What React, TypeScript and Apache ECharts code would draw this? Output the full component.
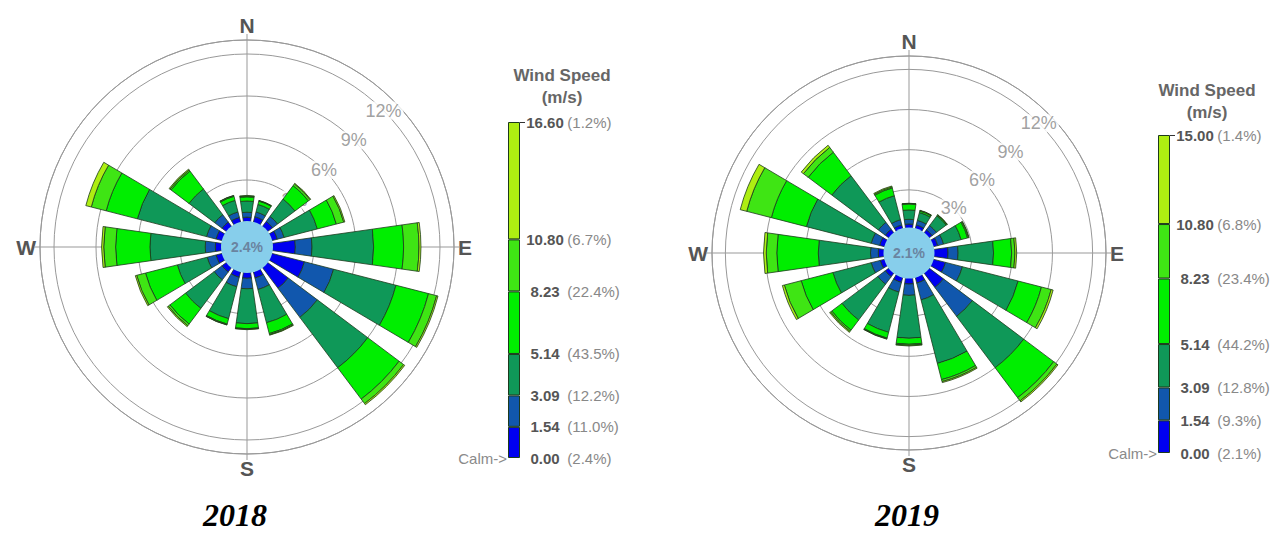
import React, { useEffect, useRef } from "react";
import * as echarts from "echarts";

// ---------- DATA ----------
const directions = ["N", "NNE", "NE", "ENE", "E", "ESE", "SE", "SSE", "S", "SSW", "SW", "WSW", "W", "WNW", "NW", "NNW"];
const compassLabels = ["N", "E", "S", "W"];
const ringTicks = [3, 6, 9, 12];

// 2018 frequencies (%) per speed class, per direction
const calm2018 = 2.4;
const y2018_0_154 = [0.35, 0.45, 0.5, 0.45, 1.67, 2.45, 1.9, 0.5, 0.45, 0.45, 0.45, 0.5, 0.48, 0.5, 0.45, 0.4];
const y2018_154_309 = [0.35, 0.35, 0.45, 0.5, 1.19, 2.15, 2.6, 0.85, 0.75, 0.7, 0.7, 0.65, 0.72, 0.7, 0.65, 0.4];
const y2018_309_514 = [0.8, 0.55, 1.55, 2.45, 4.4, 4.6, 4.5, 2.45, 2.49, 2.35, 2.55, 2.2, 3.95, 5.1, 2.3, 0.85];
const y2018_514_823 = [0.3, 0.25, 1.2, 1.4, 2.14, 2.4, 2.8, 0.8, 0.36, 0.4, 1.4, 2.35, 2.45, 2.3, 1.6, 0.3];
const y2018_823_1080 = [0.05, 0.03, 0.15, 0.55, 1.1, 0.6, 0.4, 0.08, 0.04, 0.05, 0.15, 0.65, 0.85, 1.1, 0.1, 0.05];
const y2018_1080_up = [0.05, 0.02, 0.05, 0.08, 0.14, 0.1, 0.1, 0.04, 0.03, 0.02, 0.08, 0.1, 0.15, 0.4, 0.07, 0.02];
const legendBreaks2018 = [0, 1.54, 3.09, 5.14, 8.23, 10.8, 16.6];
const legendPct2018 = [2.4, 11.0, 12.2, 43.5, 22.4, 6.7, 1.2];

// 2019
const calm2019 = 2.1;
const y2019_0_154 = [0.45, 0.45, 0.45, 0.5, 1.2, 1.1, 1.5, 0.6, 0.6, 0.55, 0.5, 0.5, 0.58, 0.55, 0.5, 0.45];
const y2019_154_309 = [0.35, 0.35, 0.4, 0.45, 0.75, 1.3, 2.7, 1.3, 0.85, 0.75, 0.7, 0.7, 0.58, 0.65, 0.65, 0.4];
const y2019_309_514 = [0.7, 0.6, 0.9, 1.35, 2.65, 4.3, 4.8, 4.9, 3.2, 3.1, 3.35, 2.95, 3.9, 5.0, 4.35, 1.85];
const y2019_514_823 = [0.45, 0.12, 0.07, 0.5, 1.35, 1.8, 2.8, 1.25, 0.45, 0.45, 0.95, 2.45, 3.1, 2.7, 2.2, 0.6];
const y2019_823_1080 = [0.03, 0.03, 0.02, 0.08, 0.25, 0.75, 0.3, 0.15, 0.08, 0.05, 0.12, 1.3, 0.79, 1.9, 0.45, 0.08];
const y2019_1080_up = [0.02, 0.03, 0.02, 0.04, 0.13, 0.15, 0.1, 0.08, 0.05, 0.03, 0.08, 0.15, 0.2, 0.5, 0.2, 0.07];
const legendBreaks2019 = [0, 1.54, 3.09, 5.14, 8.23, 10.8, 15.0];
const legendPct2019 = [2.1, 9.3, 12.8, 44.2, 23.4, 6.8, 1.4];

// ---------- STYLE ----------
const classColors = ["#0000f0", "#1157ad", "#0f9858", "#00ee00", "#3fe514", "#aeee12"];
const SANS = "'Liberation Sans', Arial, sans-serif";
const SERIF = "'Liberation Serif', 'Times New Roman', serif";
const gridLine = "#999999";
const barBorder = "#1c3a1c";

type RoseCfg = {
  year: string;
  classes: number[][];
  calm: number;
  center: [number, number];
  radius: [number, number];
  calmRadius: number;
  breaks: number[];
  pct: number[];
  legendBox: { left: number; top: number; width: number; height: number };
  titleX: number;
  titleY: number;
  yearX: number;
};

const roses: RoseCfg[] = [
  {
    year: "2018",
    classes: [y2018_0_154, y2018_154_309, y2018_309_514, y2018_514_823, y2018_823_1080, y2018_1080_up],
    calm: calm2018,
    center: [247, 247],
    radius: [25, 207],
    calmRadius: 26,
    breaks: legendBreaks2018,
    pct: legendPct2018,
    legendBox: { left: 508, top: 122, width: 12, height: 336 },
    titleX: 562,
    titleY: 64,
    yearX: 235,
  },
  {
    year: "2019",
    classes: [y2019_0_154, y2019_154_309, y2019_309_514, y2019_514_823, y2019_823_1080, y2019_1080_up],
    calm: calm2019,
    center: [909, 253],
    radius: [23, 197],
    calmRadius: 25.5,
    breaks: legendBreaks2019,
    pct: legendPct2019,
    legendBox: { left: 1158, top: 135, width: 12, height: 318 },
    titleX: 1207,
    titleY: 79,
    yearX: 907,
  },
];

function buildOption() {
  const polar: any[] = [];
  const angleAxis: any[] = [];
  const radiusAxis: any[] = [];
  const grid: any[] = [];
  const xAxis: any[] = [];
  const yAxis: any[] = [];
  const series: any[] = [];
  const title: any[] = [];

  roses.forEach((r, k) => {
    const gIdx = k * 2;
    const bIdx = k * 2 + 1;
    polar.push({ center: r.center, radius: r.radius });
    polar.push({ center: r.center, radius: r.radius });

    angleAxis.push({
      polarIndex: gIdx,
      type: "value",
      min: 0,
      max: 360,
      interval: 90,
      startAngle: 90,
      clockwise: true,
      axisLine: { show: true, lineStyle: { color: gridLine, width: 1 } },
      axisTick: { show: true, inside: false, length: 6, lineStyle: { color: gridLine } },
      axisLabel: {
        show: true,
        margin: 4,
        fontSize: 21,
        fontWeight: "bold",
        color: "#555",
        fontFamily: SANS,
        formatter: (v: number) => compassLabels[Math.round(v / 90)] ?? "",
      },
      splitLine: { show: true, lineStyle: { color: gridLine, width: 1 } },
    });
    angleAxis.push({
      polarIndex: bIdx,
      type: "category",
      data: directions,
      startAngle: 90 + 360 / 32,
      clockwise: true,
      boundaryGap: true,
      axisLine: { show: false },
      axisTick: { show: false },
      axisLabel: { show: false },
      splitLine: { show: false },
    });
    radiusAxis.push({
      polarIndex: gIdx,
      type: "value",
      min: 0,
      max: 13,
      interval: 3,
      axisLine: { show: false },
      axisTick: { show: false },
      axisLabel: { show: false },
      splitLine: { show: true, lineStyle: { color: gridLine, width: 1 } },
    });
    radiusAxis.push({
      polarIndex: bIdx,
      type: "value",
      min: 0,
      max: 13,
      axisLine: { show: false },
      axisTick: { show: false },
      axisLabel: { show: false },
      splitLine: { show: false },
    });

    // ring labels
    series.push({
      type: "scatter",
      coordinateSystem: "polar",
      polarIndex: gIdx,
      z: 1,
      silent: true,
      symbolSize: 1,
      itemStyle: { color: "rgba(0,0,0,0)" },
      data: ringTicks.map((v) => [v, 45]),
      label: {
        show: true,
        position: "inside",
        formatter: (p: any) => `${p.value[0]}%`,
        fontSize: 18,
        color: "#888",
        fontFamily: SANS,
        backgroundColor: "#fff",
        padding: [0, 2],
      },
    });

    // petals
    r.classes.forEach((vals, i) => {
      series.push({
        type: "bar",
        coordinateSystem: "polar",
        polarIndex: bIdx,
        stack: "rose" + r.year,
        z: 3,
        silent: true,
        barCategoryGap: "28%",
        data: vals,
        itemStyle: { color: classColors[i], borderColor: barBorder, borderWidth: 0.8 },
      });
    });

    // calm circle
    series.push({
      type: "pie",
      center: r.center,
      radius: [0, r.calmRadius],
      z: 5,
      silent: true,
      startAngle: 90,
      data: [{ value: r.calm, name: "Calm" }],
      itemStyle: { color: "#87ceeb" },
      labelLine: { show: false },
      label: {
        show: true,
        position: "center",
        formatter: () => `${r.calm.toFixed(1)}%`,
        fontSize: 14,
        fontWeight: "bold",
        color: "#6a84a0",
        fontFamily: SANS,
      },
    });

    // legend colour bar
    grid.push({ ...r.legendBox });
    xAxis.push({ gridIndex: k, type: "category", data: [""], show: false });
    const maxV = r.breaks[r.breaks.length - 1];
    yAxis.push({
      gridIndex: k,
      type: "value",
      min: 0,
      max: maxV,
      position: "right",
      axisLine: { show: false },
      splitLine: { show: false },
      axisTick: { show: true, customValues: [maxV], length: 5, lineStyle: { color: "#333" } },
      axisLabel: {
        show: true,
        customValues: r.breaks,
        margin: 6,
        formatter: (v: number) => {
          let idx = 0;
          r.breaks.forEach((b, j) => {
            if (Math.abs(b - v) < Math.abs(r.breaks[idx] - v)) idx = j;
          });
          return `{n|${r.breaks[idx].toFixed(2)}} {p|(${r.pct[idx].toFixed(1)}%)}`;
        },
        rich: {
          n: { fontWeight: "bold", color: "#555", fontSize: 15, width: 38, align: "right", fontFamily: SANS },
          p: { color: "#888", fontSize: 15, fontFamily: SANS },
        },
      },
    });
    yAxis.push({
      gridIndex: k,
      type: "value",
      min: 0,
      max: maxV,
      position: "left",
      axisLine: { show: false },
      splitLine: { show: false },
      axisTick: { show: false },
      axisLabel: {
        show: true,
        customValues: [0],
        margin: 1,
        formatter: () => "Calm->",
        color: "#8a8a8a",
        fontSize: 15,
        fontFamily: SANS,
      },
    });
    for (let i = 0; i < r.breaks.length - 1; i++) {
      series.push({
        type: "bar",
        xAxisIndex: k,
        yAxisIndex: k * 2,
        stack: "legend" + r.year,
        barWidth: "100%",
        silent: true,
        data: [r.breaks[i + 1] - r.breaks[i]],
        itemStyle: { color: classColors[i], borderColor: barBorder, borderWidth: 1 },
      });
    }

    title.push({
      text: "Wind Speed\n(m/s)",
      left: r.titleX,
      top: r.titleY,
      textAlign: "center",
      padding: 0,
      textStyle: { fontSize: 17, fontWeight: "bold", color: "#666", lineHeight: 22, fontFamily: SANS },
    });
    title.push({
      text: r.year,
      left: r.yearX,
      top: 498,
      textAlign: "center",
      padding: 0,
      textStyle: { fontSize: 32, fontWeight: "bold", fontStyle: "italic", color: "#000", lineHeight: 34, fontFamily: SERIF },
    });
  });

  return {
    animation: false,
    backgroundColor: "#fff",
    title,
    polar,
    angleAxis,
    radiusAxis,
    grid,
    xAxis,
    yAxis,
    series,
  };
}

export default function App() {
  const ref = useRef<HTMLDivElement>(null);
  useEffect(() => {
    if (!ref.current) return;
    const chart = echarts.init(ref.current, undefined, { renderer: "svg" });
    chart.setOption(buildOption() as any);
    return () => chart.dispose();
  }, []);
  return (
    <div
      ref={ref}
      style={{ position: "fixed", left: 0, top: 0, width: 1283, height: 533, background: "#fff" }}
    />
  );
}
